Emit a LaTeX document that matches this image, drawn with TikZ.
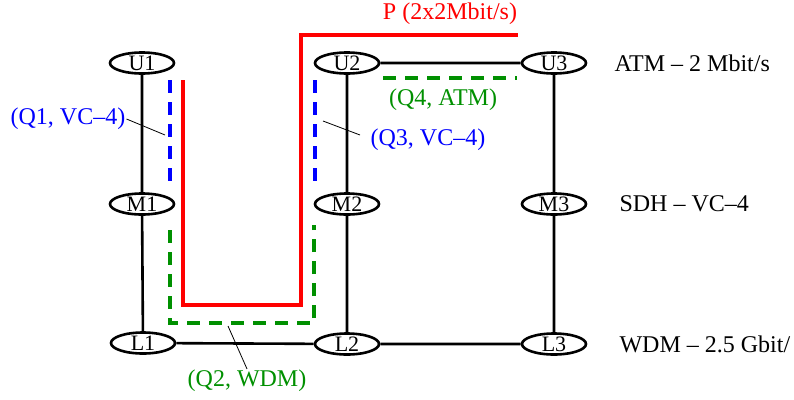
\documentclass[tikz,border=0pt]{standalone}
\usepackage{fontspec}
\setmainfont{Liberation Serif}
\usetikzlibrary{shapes.geometric,positioning}
\definecolor{pathC}{HTML}{FF0000}
\definecolor{vcC}{HTML}{0000FF}
\definecolor{wdmC}{HTML}{009000}
\newcommand{\lblfont}{\fontsize{24}{26}\selectfont}
\newcommand{\elfont}{\fontsize{22}{24}\selectfont}
\tikzset{
  elem/.style={draw, ellipse, line width=2.6pt, minimum width=64pt, minimum height=21pt,
               inner sep=0pt, text height=14pt, text depth=0pt, font=\elfont},
  link/.style={line width=2.6pt},
  layer/.style={anchor=west, font=\lblfont},
  ppath/.style={pathC, line width=4pt},
  qpath/.style={line width=4pt, dash pattern=on 13pt off 9pt},
  qlbl/.style={font=\lblfont, inner sep=1pt},
  lead/.style={line width=0.8pt},
}
\begin{document}
\begin{tikzpicture}[x=1pt,y=-1pt]
\useasboundingbox (0,0) rectangle (794,399);
% network elements
\node[elem] (u1) at (142,63) {U1};
\node[elem] (u2) at (347,63) {U2};
\node[elem] (u3) at (554,63) {U3};
\node[elem] (m1) at (142,204) {M1};
\node[elem] (m2) at (347,204) {M2};
\node[elem] (m3) at (554,204) {M3};
\node[elem] (l1) at (143,343) {L1};
\node[elem] (l2) at (347,344) {L2};
\node[elem] (l3) at (554,344) {L3};
\draw[link] (u1) -- (m1) -- (l1) -- (l2) -- (l3) -- (m3) -- (u3) -- (u2) -- (m2) -- (l2);
% layers
\node[layer] (atm) at (611,63) {ATM -- 2 Mbit/s};
\node[layer] (sdh) at (616,204) {SDH -- VC--4};
\node[layer] (wdm) at (616,344) {WDM -- 2.5 Gbit/};
% path P
\draw[ppath] (183,80) -- (183,305) -- (301,305) -- (301,35) -- (518,35);
\node[qlbl, text=pathC] (p) at (450,14) {P (2x2Mbit/s)};
% sub paths
\draw[qpath, vcC] (170,80) -- (170,185);
\draw[qpath, vcC] (315,80) -- (315,185);
\draw[qpath, wdmC] (170,230) -- (170,323) -- (314,323) -- (314,225);
\draw[qpath, wdmC] (383,78) -- (517,78);
\coordinate (q1pt) at (165,135);
\coordinate (q3pt) at (323,121);
\coordinate (q2pt) at (228,326);
\node[qlbl, text=vcC] (q1) at (68,119) {(Q1, VC--4)};
\node[qlbl, text=vcC] (q3) at (428,140) {(Q3, VC--4)};
\node[qlbl, text=wdmC] (q4) at (443,100) {(Q4, ATM)};
\node[qlbl, text=wdmC] (q2) at (247,381) {(Q2, WDM)};
\draw[lead] (q1.east) -- (q1pt);
\draw[lead] (q3pt) -- (360,135);
\draw[lead] (q2.north) -- (q2pt);
\end{tikzpicture}
\end{document}
